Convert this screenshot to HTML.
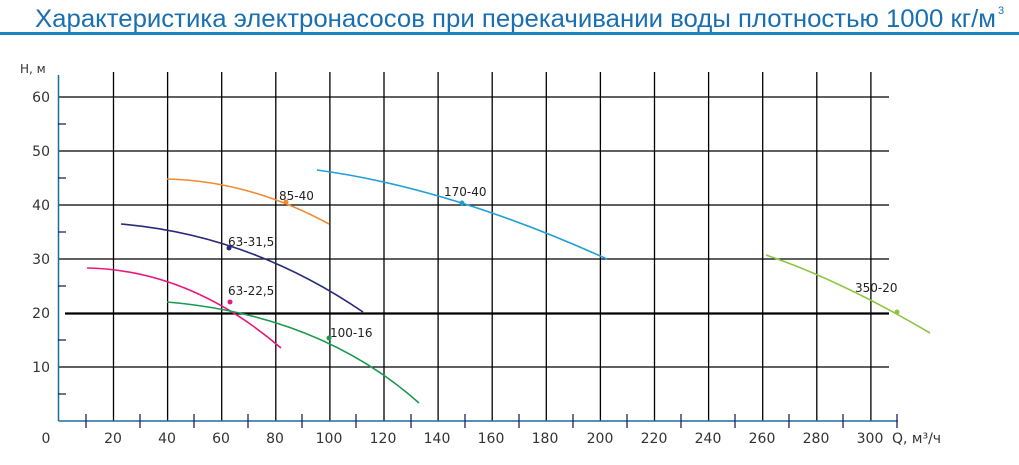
<!DOCTYPE html>
<html><head><meta charset="utf-8"><style>
html,body{margin:0;padding:0;background:#fff;width:1019px;height:465px;overflow:hidden}
svg{display:block}
text{font-family:"DejaVu Sans","Liberation Sans",sans-serif}
</style></head><body>
<svg width="1019" height="465" viewBox="0 0 1019 465">
<text x="35" y="27" style="font-family:'Liberation Sans',sans-serif" font-size="25" fill="#1a6fb0" textLength="961" lengthAdjust="spacingAndGlyphs">Характеристика электронасосов при перекачивании воды плотностью 1000 кг/м</text>
<text x="998" y="14" font-size="11" fill="#1a6fb0" style="font-family:'Liberation Sans',sans-serif">3</text>
<rect x="0" y="32" width="1019" height="3" fill="#1a86c0"/>
<g stroke="#000" stroke-width="1.3">
<line x1="113.5" y1="72" x2="113.5" y2="421"/><line x1="167.6" y1="72" x2="167.6" y2="421"/>
<line x1="221.7" y1="72" x2="221.7" y2="421"/><line x1="275.8" y1="72" x2="275.8" y2="421"/>
<line x1="329.9" y1="72" x2="329.9" y2="421"/><line x1="384" y1="72" x2="384" y2="421"/>
<line x1="438.1" y1="72" x2="438.1" y2="421"/><line x1="492.2" y1="72" x2="492.2" y2="421"/>
<line x1="546.3" y1="72" x2="546.3" y2="421"/><line x1="600.4" y1="72" x2="600.4" y2="421"/>
<line x1="654.5" y1="72" x2="654.5" y2="421"/><line x1="708.6" y1="72" x2="708.6" y2="421"/>
<line x1="762.7" y1="72" x2="762.7" y2="421"/><line x1="816.8" y1="72" x2="816.8" y2="421"/>
<line x1="870.9" y1="72" x2="870.9" y2="421"/>
<line x1="58" y1="97" x2="889" y2="97"/><line x1="58" y1="151" x2="889" y2="151"/>
<line x1="58" y1="205" x2="889" y2="205"/><line x1="58" y1="259" x2="889" y2="259"/>
<line x1="58" y1="367" x2="889" y2="367"/>
</g>
<line x1="65" y1="313.5" x2="889" y2="313.5" stroke="#000" stroke-width="2.2"/>
<g stroke="#1a6f9a" stroke-width="1.5"><line x1="58.5" y1="75" x2="58.5" y2="421"/><line x1="58.5" y1="421" x2="898" y2="421"/></g>
<g stroke="#22245e" stroke-width="1.3">
<line x1="58" y1="124" x2="66" y2="124"/><line x1="58" y1="178" x2="66" y2="178"/><line x1="58" y1="232" x2="66" y2="232"/>
<line x1="58" y1="286" x2="66" y2="286"/><line x1="58" y1="340" x2="66" y2="340"/><line x1="58" y1="394" x2="66" y2="394"/>
<line x1="86" y1="414" x2="86" y2="428"/><line x1="140" y1="414" x2="140" y2="428"/><line x1="194" y1="414" x2="194" y2="428"/>
<line x1="248" y1="414" x2="248" y2="428"/><line x1="302" y1="414" x2="302" y2="428"/><line x1="356" y1="414" x2="356" y2="428"/>
<line x1="411" y1="414" x2="411" y2="428"/><line x1="465" y1="414" x2="465" y2="428"/><line x1="519" y1="414" x2="519" y2="428"/>
<line x1="573" y1="414" x2="573" y2="428"/><line x1="627" y1="414" x2="627" y2="428"/><line x1="681" y1="414" x2="681" y2="428"/>
<line x1="735" y1="414" x2="735" y2="428"/><line x1="789" y1="414" x2="789" y2="428"/><line x1="843" y1="414" x2="843" y2="428"/>
<line x1="897" y1="414" x2="897" y2="428"/>
</g>
<g font-size="14" fill="#333">
<text x="20" y="73" font-size="12">H, м</text>
<g text-anchor="end"><text x="50" y="102">60</text><text x="50" y="156">50</text><text x="50" y="210">40</text><text x="50" y="264">30</text><text x="50" y="318">20</text><text x="50" y="372">10</text></g>
<g text-anchor="middle">
<text x="46" y="443">0</text><text x="113" y="443">20</text><text x="167" y="443">40</text><text x="221" y="443">60</text>
<text x="275" y="443">80</text><text x="329" y="443">100</text><text x="383" y="443">120</text><text x="437" y="443">140</text>
<text x="491" y="443">160</text><text x="545" y="443">180</text><text x="600" y="443">200</text><text x="654" y="443">220</text>
<text x="708" y="443">240</text><text x="762" y="443">260</text><text x="816" y="443">280</text><text x="870" y="443">300</text>
</g>
<text x="892" y="443">Q, м³/ч</text>
</g>
<g fill="none" stroke-width="1.6">
<path d="M167,179 Q250,181 329,224" stroke="#f08a30"/>
<path d="M317,170 Q450,188 607,259" stroke="#1fa0d8"/>
<path d="M121,224 Q250,235 363,312" stroke="#2a2a7a"/>
<path d="M87,268 Q190,270 281,348" stroke="#e8177a"/>
<path d="M167,302 Q320,315 419,403" stroke="#1a9a50"/>
<path d="M766,255 Q840,280 930,333" stroke="#8cc63f"/>
</g>
<circle cx="286" cy="202" r="2.5" fill="#f08a30"/>
<circle cx="462" cy="203" r="2.5" fill="#1fa0d8"/>
<circle cx="229" cy="248" r="2.5" fill="#2a2a7a"/>
<circle cx="230" cy="302" r="2.5" fill="#e8177a"/>
<circle cx="329" cy="338" r="2.5" fill="#1a9a50"/>
<circle cx="897" cy="312" r="2.5" fill="#8cc63f"/>
<g font-size="12" fill="#222">
<text x="279" y="200">85-40</text><text x="444" y="196">170-40</text><text x="228" y="246">63-31,5</text>
<text x="228" y="295">63-22,5</text><text x="330" y="337">100-16</text><text x="855" y="292">350-20</text>
</g>
</svg>
</body></html>
